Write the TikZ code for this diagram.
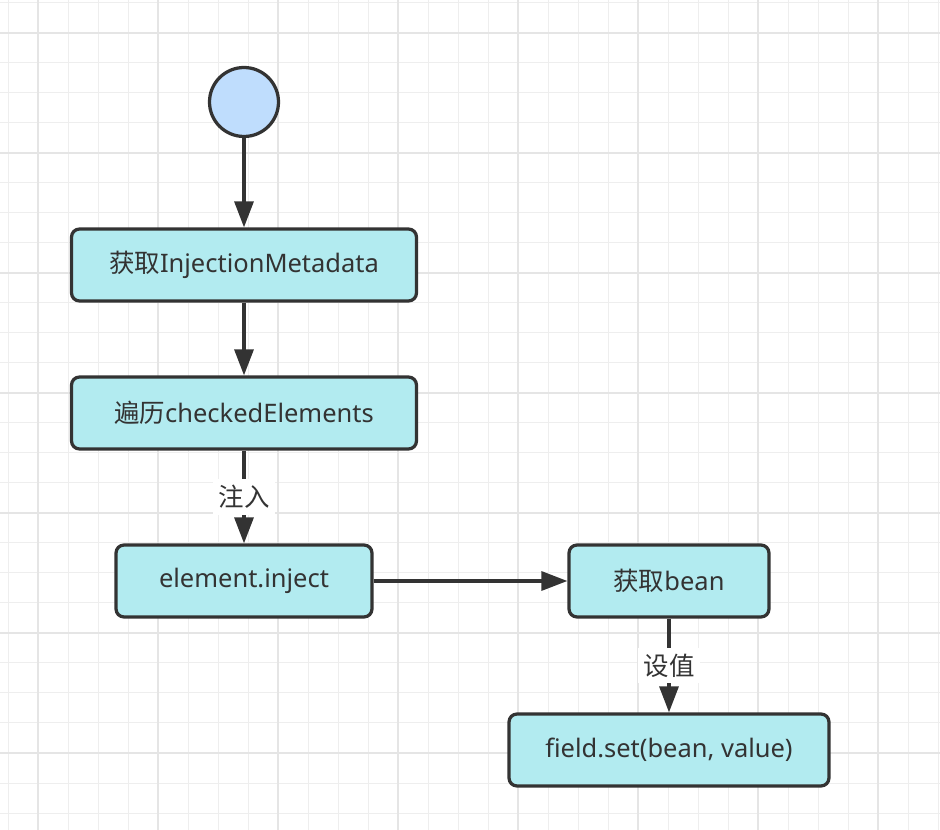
\documentclass[tikz,border=0pt]{standalone}
\usepackage{fontspec}
\setmainfont{Noto Sans}
\newfontfamily\cjk{Noto Sans CJK SC}
\usepackage{tikz}
\usetikzlibrary{arrows.meta,positioning,shapes.geometric}
\definecolor{gridminor}{HTML}{EEEEEE}
\definecolor{gridmajor}{HTML}{E5E5E5}
\definecolor{boxfill}{HTML}{B2EBF0}
\definecolor{startfill}{HTML}{BFDDFD}
\definecolor{edgedark}{HTML}{333333}
\newcommand{\flowfont}{\fontsize{14.5pt}{17pt}\selectfont}

\begin{document}
\begin{tikzpicture}[x=0.02cm, y=-0.02cm,
  stepbox/.style={draw=edgedark, line width=0.065cm, fill=boxfill, rounded corners=0.16cm,
    minimum height=1.44cm, text=edgedark, font=\flowfont, inner sep=0pt},
  startnode/.style={circle, draw=edgedark, line width=0.065cm, fill=startfill, minimum size=1.38cm},
  flow/.style={draw=edgedark, line width=0.065cm, -{Triangle[length=0.52cm, width=0.38cm]}},
  edgelabel/.style={fill=white, text=edgedark, font=\flowfont, inner sep=0.12cm}]
\useasboundingbox (0,0) rectangle (940,830);
% Grid
\foreach \gx in {8,38,...,938} \draw[gridminor, line width=0.02cm] (\gx,0) -- (\gx,830);
\foreach \gy in {3,33,...,813} \draw[gridminor, line width=0.02cm] (0,\gy) -- (940,\gy);
\foreach \gx in {38,158,...,878} \draw[gridmajor, line width=0.03cm] (\gx,0) -- (\gx,830);
\foreach \gy in {33,153,...,753} \draw[gridmajor, line width=0.03cm] (0,\gy) -- (940,\gy);

% Nodes
\node[startnode] (start) at (244,102) {};
\node[stepbox, minimum width=6.9cm] (getmeta) at (244,265) {{\cjk 获取}InjectionMetadata};
\node[stepbox, minimum width=6.9cm] (loop) at (244,413) {{\cjk 遍历}checkedElements};
\node[stepbox, minimum width=5.12cm] (inject) at (244,581) {element.inject};
\node[stepbox, minimum width=4.0cm] (getbean) at (669,581) {{\cjk 获取}bean};
\node[stepbox, minimum width=6.4cm] (setval) at (669,750) {field.set(bean, value)};

% Arrows
\draw[flow] (start) -- (getmeta);
\draw[flow] (getmeta) -- (loop);
\draw[flow] (loop) -- node[edgelabel] (injlabel) {\cjk 注入} (inject);
\draw[flow] (inject) -- (getbean);
\draw[flow] (getbean) -- node[edgelabel] (setlabel) {\cjk 设值} (setval);
\end{tikzpicture}
\end{document}
